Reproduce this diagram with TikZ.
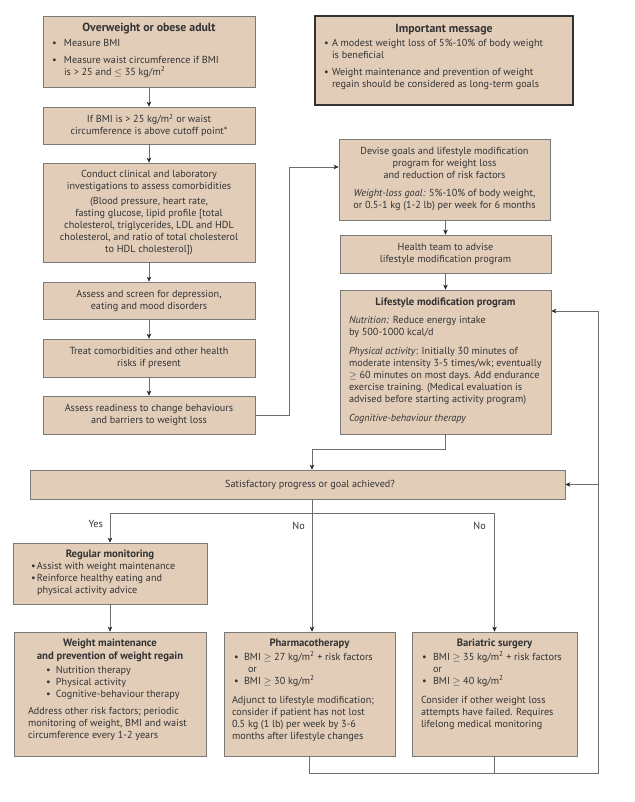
\documentclass[tikz,border=0pt]{standalone}
\usepackage{fontspec}
\setmainfont{PT Sans}
\usetikzlibrary{arrows.meta}
\definecolor{boxfill}{HTML}{E2CDB9}
\definecolor{boxline}{HTML}{7A7A7A}
\definecolor{conline}{HTML}{6E6E6E}
\definecolor{txt}{HTML}{333333}
\newcommand{\itm}[3]{\par\noindent\hangindent=\dimexpr#1+#2\relax\hangafter=1\hspace*{#1}\makebox[#2][l]{\textbullet}#3\par}
\newcommand{\vg}[1]{\par\vspace{#1}}
\newcommand{\sq}{\textsuperscript{2}}
\newcommand{\ttl}{\fontsize{10.7}{12.5}\selectfont\bfseries}
\newcommand{\bigttl}{\fontsize{11.8}{13}\selectfont\bfseries}
\newcommand{\boxtext}[3]{\begin{minipage}[c][#2][t]{#1}#3\end{minipage}}
\begin{document}
\begin{tikzpicture}[x=1pt,y=-1pt,font=\fontsize{10.2}{12}\selectfont,text=txt,
  box/.style={draw=boxline,fill=boxfill,line width=0.7pt,inner sep=0pt},
  cbox/.style={box,align=center},
  impbox/.style={draw=black!80,fill=boxfill,line width=1.2pt,inner sep=0pt},
  conn/.style={draw=conline,line width=0.7pt},
  arr/.style={conn,-{Stealth[length=5pt,width=4.5pt,inset=1.5pt,color=black!85]}},
  lbl/.style={inner sep=0pt,anchor=east}]
\useasboundingbox (0,0) rectangle (634,802);
% left column
\node[box,minimum width=212pt,minimum height=71pt] (over) at (149,51.5)
 {\boxtext{194pt}{57pt}{\raggedright{\centering\bigttl Overweight or obese adult\par}\vspace{3.5pt}%
  \itm{0pt}{12pt}{Measure BMI}\vspace{4.5pt}%
  \itm{0pt}{12pt}{Measure waist circumference if BMI\newline is > 25 and $\le$ 35 kg/m\sq}}};
\node[cbox,minimum width=212pt,minimum height=37pt] (ifbmi) at (149,125.5)
 {If BMI is > 25 kg/m\sq{} or waist\\circumference is above cutoff point*};
\node[cbox,minimum width=212pt,minimum height=99pt] (conduct) at (149,212.5)
 {Conduct clinical and laboratory\\investigations to assess comorbidities\\[3pt]
  (Blood pressure, heart rate,\\fasting glucose, lipid profile [total\\cholesterol, triglycerides, LDL and HDL\\cholesterol, and ratio of total cholesterol\\to HDL cholesterol])};
\node[cbox,minimum width=212pt,minimum height=37pt] (screen) at (149,300.5)
 {Assess and screen for depression,\\eating and mood disorders};
\node[cbox,minimum width=212pt,minimum height=38pt] (treat) at (149,358)
 {Treat comorbidities and other health\\risks if present};
\node[cbox,minimum width=212pt,minimum height=38pt] (ready) at (149,415)
 {Assess readiness to change behaviours\\and barriers to weight loss};
% right column
\node[impbox,minimum width=258pt,minimum height=89pt] (imp) at (444,60.5)
 {\boxtext{240pt}{73pt}{\raggedright{\centering\bigttl Important message\par}\vspace{2.5pt}%
  \itm{0pt}{8pt}{A modest weight loss of 5\%-10\% of body weight\newline is beneficial}\vspace{4.5pt}%
  \itm{0pt}{8pt}{Weight maintenance and prevention of weight\newline regain should be considered as long-term goals}}};
\node[cbox,minimum width=211pt,minimum height=81pt] (devise) at (444.5,179.5)
 {Devise goals and lifestyle modification\\program for weight loss\\and reduction of risk factors\\[6pt]
  \textit{Weight-loss goal:} 5\%-10\% of body weight,\\or 0.5-1 kg (1-2 lb) per week for 6 months};
\node[cbox,minimum width=211pt,minimum height=38pt] (health) at (445.5,254)
 {Health team to advise\\lifestyle modification program};
\node[box,minimum width=211pt,minimum height=144pt] (life) at (445.5,362)
 {\boxtext{193pt}{128pt}{\raggedright{\centering\ttl Lifestyle modification program\par}\vspace{6pt}%
  \textit{Nutrition:} Reduce energy intake\\by 500-1000 kcal/d\vg{7pt}%
  \textit{Physical activity}: Initially 30 minutes of\\moderate intensity 3-5 times/wk; eventually\\$\ge$ 60 minutes on most days. Add endurance\\exercise training. (Medical evaluation is\\advised before starting activity program)\vg{7pt}%
  \textit{Cognitive-behaviour therapy}\par}};
% decision
\node[cbox,minimum width=535pt,minimum height=29pt] (sat) at (297.5,484.5)
 {\hspace*{25pt}Satisfactory progress or goal achieved?};
% bottom
\node[box,minimum width=194pt,minimum height=61pt] (reg) at (110,573.5)
 {\boxtext{178pt}{47pt}{\raggedright{\centering\ttl Regular monitoring\par}%
  \itm{10pt}{6pt}{Assist with weight maintenance}%
  \itm{10pt}{6pt}{Reinforce healthy eating and\newline physical activity advice}}};
\node[box,minimum width=192pt,minimum height=124pt] (wm) at (110,694)
 {\boxtext{164pt}{110pt}{\raggedright{\centering\ttl Weight maintenance\\and prevention of weight regain\par}\vspace{2pt}%
  \itm{18pt}{10pt}{Nutrition therapy}%
  \itm{18pt}{10pt}{Physical activity}%
  \itm{18pt}{10pt}{Cognitive-behaviour therapy}\vspace{5pt}%
  Address other risk factors; periodic\\monitoring of weight, BMI and waist\\circumference every 1-2 years\par}};
\node[box,minimum width=171pt,minimum height=124pt] (pharm) at (309.5,694)
 {\boxtext{155pt}{110pt}{\raggedright{\centering\ttl Pharmacotherapy\par}\vspace{2pt}%
  \itm{2pt}{10pt}{BMI $\ge$ 27 kg/m\sq{} + risk factors}%
  \par\noindent\hspace*{16pt}or\par
  \itm{2pt}{10pt}{BMI $\ge$ 30 kg/m\sq}\vspace{7pt}%
  Adjunct to lifestyle modification;\\consider if patient has not lost\\0.5 kg (1 lb) per week by 3-6\\months after lifestyle changes\par}};
\node[box,minimum width=165pt,minimum height=124pt] (bari) at (494.5,694)
 {\boxtext{147pt}{110pt}{\raggedright{\centering\ttl Bariatric surgery\par}\vspace{2pt}%
  \itm{1pt}{11pt}{BMI $\ge$ 35 kg/m\sq{} + risk factors}%
  \par\noindent\hspace*{12pt}or\par
  \itm{1pt}{11pt}{BMI $\ge$ 40 kg/m\sq}\vspace{7pt}%
  Consider if other weight loss\\attempts have failed. Requires\\lifelong medical monitoring\par}};
% junction coordinates
\coordinate (j1) at (289,167);
\coordinate (j2) at (312,449);
\coordinate (j3) at (312,513);
\coordinate (j4) at (598,773);
\coordinate (j5) at (598,311);
% connectors
\draw[arr] (over) -- (ifbmi);
\draw[arr] (ifbmi) -- (conduct);
\draw[arr] (conduct) -- (screen);
\draw[arr] (screen) -- (treat);
\draw[arr] (treat) -- (ready);
\draw[arr] (ready.east) -| (j1) -- (devise.west |- j1);
\draw[arr] (devise.south -| health) -- (health);
\draw[arr] (health) -- (life);
\draw[arr] (life.south) |- (j2) -- (sat.north -| j2);
\draw[arr] (sat.south -| j2) -- (pharm.north -| j2);
\draw[arr] (j3) -| (reg.north);
\draw[arr] (j3) -| (bari.north);
\draw[arr] (reg) -- (wm);
\draw[arr] (pharm.south) |- (j4) -- (j5) -- (life.east |- j5);
\draw[arr] (j5 |- sat.east) -- (sat.east);
\draw[conn] (bari.south) -- (bari.south |- j4);
% labels
\node[lbl] (yes) at (103,524) {Yes};
\node[lbl] (no1) at (305,526) {No};
\node[lbl] (no2) at (486,526) {No};
\end{tikzpicture}
\end{document}
